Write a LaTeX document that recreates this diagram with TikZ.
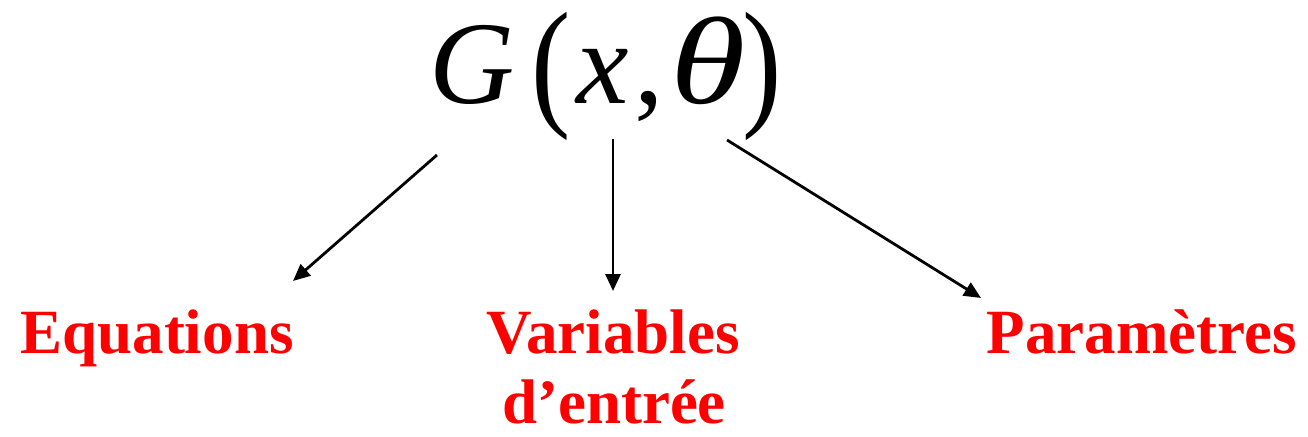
\documentclass[tikz,border=0pt]{standalone}
\usepackage{fontspec}
\setmainfont{Liberation Serif}
\usepackage{graphicx}
\usetikzlibrary{arrows.meta}
\begin{document}
\begin{tikzpicture}[x=1pt,y=-1pt,
  mth/.style={inner sep=0pt,anchor=base west,font=\fontsize{118}{118}\selectfont},
  par/.style={inner sep=0pt,anchor=base,font=\fontsize{118}{118}\selectfont},
  lbl/.style={text=red,font=\fontsize{63}{66}\selectfont\bfseries,inner sep=0pt,anchor=base},
  conn/.style={line width=2.8pt,-{Triangle[length=17pt,width=15pt]}}]
\useasboundingbox (0,0) rectangle (1308,436);
\node[mth] (G) at (429,103) {\textit{G}};
\node[par] (lp) at (551,110) {\scalebox{1}[1.2]{(}};
\node[mth] (x) at (576,103) {\textit{x}};
\node[mth] (cm) at (634,103) {,};
\node[mth] (th) at (670,103) {\scalebox{1.3}[1.05]{\textit{θ}}};
\node[par] (rp) at (762,110) {\scalebox{1}[1.2]{)}};
\node[lbl] (eq) at (157,353) {Equations};
\node[lbl] (var) at (613,353) {Variables};
\node[lbl] (ent) at (614,423) {d’entrée};
\node[lbl] (pa) at (1142,353) {Paramètres};
\coordinate (s1) at (437,155);
\coordinate (e1) at (293,281);
\coordinate (s2) at (613,139);
\coordinate (e2) at (613,291);
\coordinate (s3) at (727,140);
\coordinate (e3) at (981,298);
\draw[conn] (s1) -- (e1);
\draw[conn] (s2) -- (e2);
\draw[conn] (s3) -- (e3);
\end{tikzpicture}
\end{document}
